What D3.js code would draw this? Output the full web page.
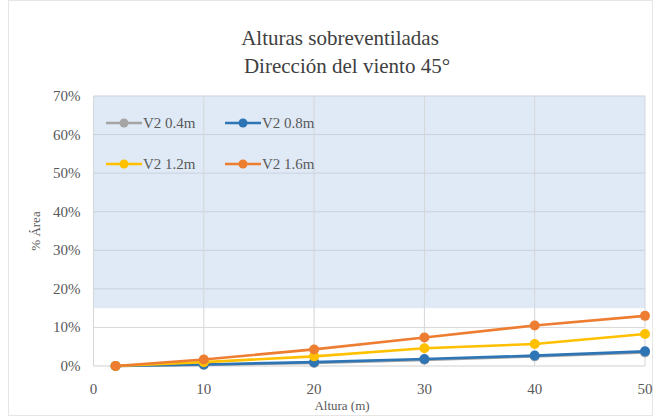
<!DOCTYPE html>
<html>
<head>
<meta charset="utf-8">
<script src="https://cdn.jsdelivr.net/npm/d3@7"></script>
<style>
  body { margin: 0; background: #fff; }
</style>
</head>
<body>
<div id="chart"></div>
<script>
// alturas (m) on x
const alturas = [2, 10, 20, 30, 40, 50];

// % area per series
const v2_04 = [0, 0.3, 0.8, 1.6, 2.5, 3.5];
const v2_08 = [0, 0.4, 1.0, 1.8, 2.7, 3.8];
const v2_12 = [0, 1.0, 2.5, 4.6, 5.7, 8.3];
const v2_16 = [0, 1.7, 4.3, 7.4, 10.5, 13.0];

const seriesNames = ["V2 0.4m", "V2 0.8m", "V2 1.2m", "V2 1.6m"];
const colors = ["#a5a5a5", "#2e75b6", "#ffc000", "#ed7d31"];

const xTicks = [0, 10, 20, 30, 40, 50];
const yTicks = [0, 10, 20, 30, 40, 50, 60, 70];
// shaded band on the plot, in %
const band = [15, 70];

const width = 661, height = 416;
const margin = {top: 96, right: 16, bottom: 50, left: 93.5};

const series = [v2_04, v2_08, v2_12, v2_16].map((vals, i) => ({
    name: seriesNames[i],
    color: colors[i],
    values: vals.map((v, j) => ({x: alturas[j], y: v}))
}));

const svg = d3.select("#chart").append("svg")
    .attr("width", width)
    .attr("height", height)
    .attr("font-family", "'Liberation Serif', 'Times New Roman', serif");

// outer chart border
svg.append("rect")
    .attr("x", 8.5).attr("y", 0.5)
    .attr("width", width - 17).attr("height", height - 1)
    .attr("fill", "#fff")
    .attr("stroke", "#e6e6e6");

const x = d3.scaleLinear().domain([0, 50]).range([margin.left, width - margin.right]);
const y = d3.scaleLinear().domain([0, 70]).range([height - margin.bottom, margin.top]);

// blue band
svg.append("rect")
    .attr("x", x(0))
    .attr("y", y(band[1]))
    .attr("width", x(50) - x(0))
    .attr("height", y(band[0]) - y(band[1]))
    .attr("fill", "#e0eaf6");

// gridlines
svg.append("g")
    .selectAll("line")
    .data(yTicks.filter(d => d > 0))
    .join("line")
      .attr("x1", x(0)).attr("x2", x(50))
      .attr("y1", d => y(d)).attr("y2", d => y(d))
      .attr("stroke", d => d >= band[0] ? "#c9d1dc" : "#d9d9d9")
      .attr("stroke-width", 1);

svg.append("g")
    .selectAll("line")
    .data(xTicks)
    .join("line")
      .attr("x1", d => x(d)).attr("x2", d => x(d))
      .attr("y1", y(0)).attr("y2", y(70))
      .attr("stroke", "#d3d6db")
      .attr("stroke-width", 1);

// x axis line
svg.append("line")
    .attr("x1", x(0)).attr("x2", x(50))
    .attr("y1", y(0)).attr("y2", y(0))
    .attr("stroke", "#d0d0d0");

// tick labels
svg.append("g")
    .selectAll("text")
    .data(yTicks)
    .join("text")
      .attr("x", x(0) - 13)
      .attr("y", d => y(d) + 5)
      .attr("text-anchor", "end")
      .attr("font-size", 15)
      .attr("fill", "#595959")
      .text(d => d + "%");

svg.append("g")
    .selectAll("text")
    .data(xTicks)
    .join("text")
      .attr("x", d => x(d))
      .attr("y", y(0) + 28)
      .attr("text-anchor", "middle")
      .attr("font-size", 15)
      .attr("fill", "#595959")
      .text(d => d);

// axis titles
svg.append("text")
    .attr("x", 342).attr("y", 410)
    .attr("text-anchor", "middle")
    .attr("font-size", 13)
    .attr("fill", "#595959")
    .text("Altura (m)");

svg.append("text")
    .attr("transform", `translate(40,${y(35)}) rotate(-90)`)
    .attr("text-anchor", "middle")
    .attr("font-size", 13)
    .attr("fill", "#595959")
    .text("% Área");

// title
const title = svg.append("text")
    .attr("text-anchor", "middle")
    .attr("font-size", 21)
    .attr("fill", "#404040");
title.append("tspan").attr("x", 340).attr("y", 45).text("Alturas sobreventiladas");
title.append("tspan").attr("x", 347).attr("y", 73).text("Dirección del viento 45°");

// lines
const line = d3.line().x(d => x(d.x)).y(d => y(d.y));

const sg = svg.append("g")
    .selectAll("g")
    .data(series)
    .join("g");

sg.append("path")
    .attr("d", d => line(d.values))
    .attr("fill", "none")
    .attr("stroke", d => d.color)
    .attr("stroke-width", 2.6);

sg.selectAll("circle")
    .data(d => d.values.map(v => ({...v, color: d.color})))
    .join("circle")
      .attr("cx", d => x(d.x))
      .attr("cy", d => y(d.y))
      .attr("r", 5)
      .attr("fill", d => d.color);

// legend
const legendPos = [[106, 123], [225, 123], [106, 164], [225, 164]];
const lg = svg.append("g")
    .selectAll("g")
    .data(series)
    .join("g")
      .attr("transform", (d, i) => `translate(${legendPos[i][0]},${legendPos[i][1]})`);

lg.append("line")
    .attr("x1", 0).attr("x2", 36)
    .attr("y1", 0).attr("y2", 0)
    .attr("stroke", d => d.color)
    .attr("stroke-width", 2.6);
lg.append("circle")
    .attr("cx", 18).attr("cy", 0).attr("r", 4.5)
    .attr("fill", d => d.color);
lg.append("text")
    .attr("x", 37).attr("y", 5)
    .attr("font-size", 15)
    .attr("fill", "#595959")
    .text(d => d.name);
</script>
</body>
</html>
